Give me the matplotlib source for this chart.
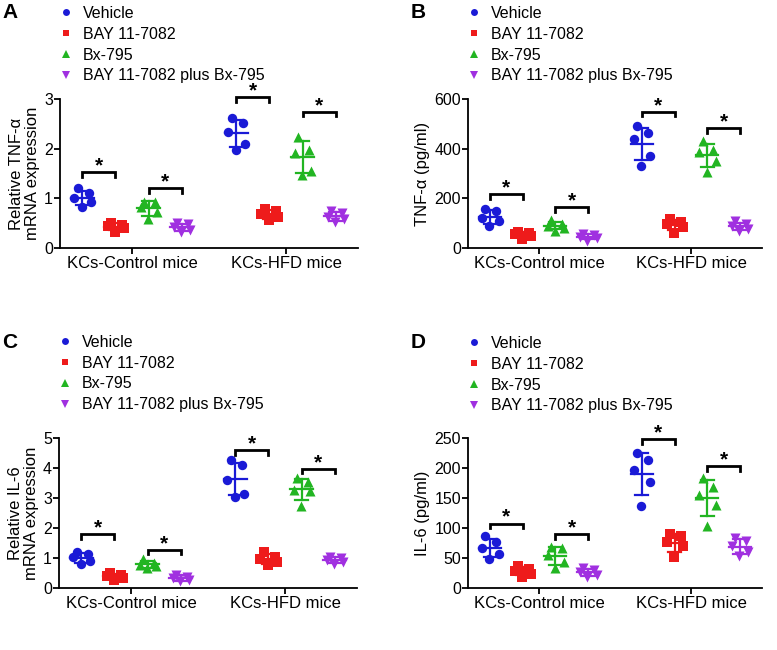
import matplotlib
matplotlib.use('Agg')
import matplotlib.pyplot as plt
from matplotlib.lines import Line2D
import numpy as np

plt.rcParams['font.family'] = ['Liberation Sans', 'DejaVu Sans']

# ---------------- data ----------------
groups = ['KCs-Control mice', 'KCs-HFD mice']
treatments = ['Vehicle', 'BAY 11-7082', 'Bx-795', 'BAY 11-7082 plus Bx-795']

# Panel A: Relative TNF-a mRNA expression (Vehicle, BAY, Bx, BAY+Bx)
A_control = [[1.20, 1.10, 1.00, 0.93, 0.83],
             [0.50, 0.47, 0.44, 0.40, 0.33],
             [0.93, 0.92, 0.83, 0.72, 0.58],
             [0.50, 0.48, 0.42, 0.37, 0.32]]
A_hfd = [[2.62, 2.52, 2.34, 2.10, 1.97],
         [0.78, 0.74, 0.68, 0.62, 0.57],
         [2.24, 1.97, 1.92, 1.55, 1.47],
         [0.75, 0.70, 0.63, 0.58, 0.52]]
A_brackets = [1.53, 1.20, 3.04, 2.74]

# Panel B: TNF-a (pg/ml)
B_control = [[158, 147, 120, 108, 88],
             [65, 60, 55, 48, 38],
             [112, 98, 90, 82, 70],
             [58, 52, 46, 40, 30]]
B_hfd = [[490, 462, 440, 372, 330],
         [118, 105, 95, 85, 62],
         [430, 395, 385, 350, 305],
         [108, 95, 87, 78, 68]]
B_brackets = [217, 165, 548, 483]

# Panel C: Relative IL-6 mRNA expression
C_control = [[1.20, 1.12, 1.02, 0.90, 0.80],
             [0.50, 0.45, 0.40, 0.35, 0.28],
             [0.97, 0.84, 0.78, 0.72, 0.66],
             [0.45, 0.38, 0.33, 0.28, 0.22]]
C_hfd = [[4.27, 4.10, 3.60, 3.15, 3.05],
         [1.20, 1.05, 0.97, 0.88, 0.78],
         [3.66, 3.55, 3.27, 3.22, 2.75],
         [1.05, 1.00, 0.93, 0.88, 0.80]]
C_brackets = [1.80, 1.27, 4.60, 3.97]

# Panel D: IL-6 (pg/ml)
D_control = [[86, 76, 67, 57, 49],
             [37, 32, 28, 24, 19],
             [68, 66, 55, 44, 33],
             [34, 30, 26, 22, 18]]
D_hfd = [[225, 214, 196, 176, 136],
         [90, 86, 77, 70, 52],
         [183, 168, 155, 138, 104],
         [84, 78, 70, 60, 53]]
D_brackets = [107, 90, 248, 203]

A_yticks = [0, 1, 2, 3]
B_yticks = [0, 200, 400, 600]
C_yticks = [0, 1, 2, 3, 4, 5]
D_yticks = [0, 50, 100, 150, 200, 250]

# ---------------- style ----------------
colors = ['#1a1ad6', '#ee1b1b', '#22b522', '#a030e0']
markers = ['o', 's', '^', 'v']
msize = [46, 44, 52, 52]
JITTER = np.array([-0.14, 0.19, -0.24, 0.26, -0.02])
GROUP_SHIFT = 4.65

W, H = 777, 650
fig = plt.figure(figsize=(W / 100, H / 100), dpi=100)


def px_axes(left, top, right, bottom):
    return fig.add_axes([left / W, 1 - bottom / H, (right - left) / W, (bottom - top) / H])


def draw_panel(box, control, hfd, brackets, yticks, ylabel, letter, letter_xy, legend_xy, ylabel_pad):
    ax = px_axes(*box)
    ytop = yticks[-1]
    px_per_unit = (box[3] - box[1]) / ytop
    for gi, gdata in enumerate([control, hfd]):
        for ti, vals in enumerate(gdata):
            x = gi * GROUP_SHIFT + ti
            v = np.array(sorted(vals, reverse=True), dtype=float)
            ax.scatter(x + JITTER, v, marker=markers[ti], s=msize[ti], color=colors[ti],
                       linewidths=0, zorder=3, clip_on=False)
            m = v.mean()
            sd = v.std(ddof=1)
            ax.plot([x - 0.34, x + 0.34], [m, m], color=colors[ti], lw=1.6, zorder=4)
            ax.plot([x, x], [m - sd, m + sd], color=colors[ti], lw=1.6, zorder=4)
            for yy in (m - sd, m + sd):
                ax.plot([x - 0.2, x + 0.2], [yy, yy], color=colors[ti], lw=1.6, zorder=4)
        # brackets
        for bi, (t0, t1) in enumerate([(0, 1), (2, 3)]):
            y = brackets[gi * 2 + bi]
            x0 = gi * GROUP_SHIFT + t0
            x1 = gi * GROUP_SHIFT + t1
            d = 4.5 / px_per_unit
            ax.plot([x0, x0, x1, x1], [y - d, y, y, y - d], color='black', lw=2,
                    solid_joinstyle='miter', clip_on=False, zorder=5)
            ax.text((x0 + x1) / 2, y - 3.0 / px_per_unit, '*', ha='center', va='bottom',
                    fontsize=15, fontweight='bold', color='black', clip_on=False)

    ax.set_xlim(-0.675, 3 + GROUP_SHIFT + 0.675)
    ax.set_ylim(0, ytop)
    ax.set_yticks(yticks)
    ax.set_xticks([1.5, 1.5 + GROUP_SHIFT])
    ax.set_xticklabels(groups, fontsize=12)
    ax.tick_params(axis='y', labelsize=11.5, length=4, width=1.3, direction='out', pad=1)
    ax.tick_params(axis='x', length=4, width=1.3, direction='out', pad=2)
    for s in ('top', 'right'):
        ax.spines[s].set_visible(False)
    for s in ('left', 'bottom'):
        ax.spines[s].set_linewidth(1.3)
    ax.set_ylabel(ylabel, fontsize=12, labelpad=ylabel_pad, linespacing=1.05)

    handles = [Line2D([], [], marker=markers[i], color=colors[i], linestyle='none',
                      markersize=5 if i < 2 else 5.5, markeredgewidth=0) for i in range(4)]
    ax.legend(handles, treatments, loc='upper left',
              bbox_to_anchor=(legend_xy[0] / W, 1 - legend_xy[1] / H),
              bbox_transform=fig.transFigure, frameon=False, fontsize=11.5,
              handlelength=0.8, handletextpad=0.65, labelspacing=0.36,
              borderaxespad=0, borderpad=0)
    fig.text(letter_xy[0] / W, 1 - letter_xy[1] / H, letter, fontsize=15,
             fontweight='bold', ha='left', va='center')
    return ax


draw_panel((60, 99, 358, 248), A_control, A_hfd, A_brackets, A_yticks,
           'Relative TNF-\u03b1\nmRNA expression', 'A', (2, 13), (60, 6), 3)
draw_panel((468, 99, 762, 248), B_control, B_hfd, B_brackets, B_yticks,
           'TNF-\u03b1 (pg/ml)', 'B', (411, 13), (468, 6), 3)
draw_panel((59, 438, 357, 588), C_control, C_hfd, C_brackets, C_yticks,
           'Relative IL-6\nmRNA expression', 'C', (2, 342), (59, 335), 3)
draw_panel((468, 438, 762, 588), D_control, D_hfd, D_brackets, D_yticks,
           'IL-6 (pg/ml)', 'D', (411, 343), (468, 336), 3)

fig.savefig('out.png', dpi=100)
